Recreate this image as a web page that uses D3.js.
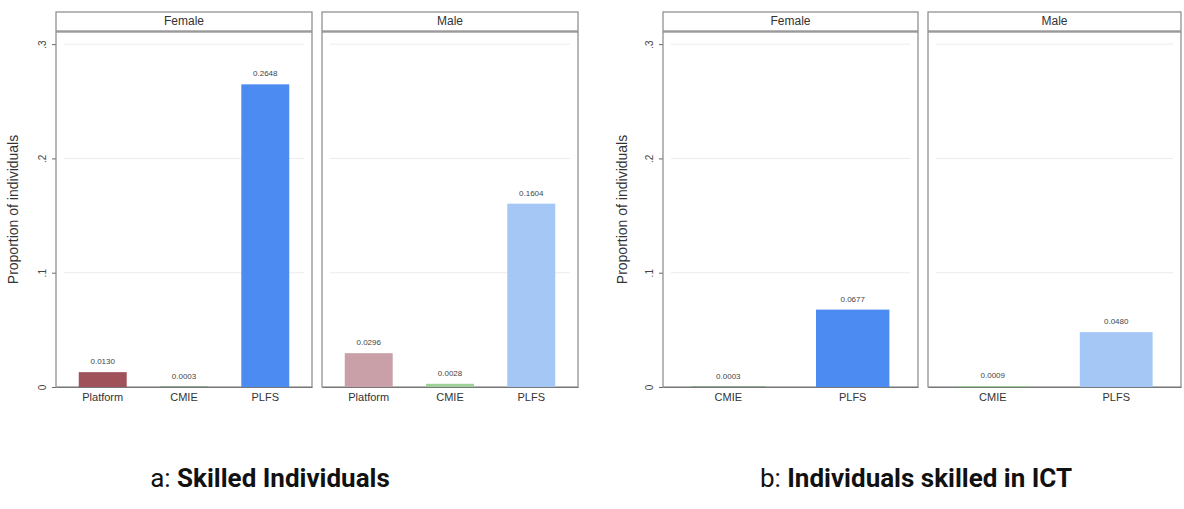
<!DOCTYPE html>
<html lang="en">
<head>
  <meta charset="UTF-8">
  <title>Skilled individuals by source</title>
  <script src="https://cdn.jsdelivr.net/npm/d3@7.9.0/dist/d3.min.js"></script>
  <style>
    html, body { margin: 0; padding: 0; background: #fff; }
    svg { display: block; }
  </style>
</head>
<body>
  <svg id="chart" width="1184" height="509"></svg>
  <script>
    // data
    const sexes = ["Female", "Male"];
    const catsA = ["Platform", "CMIE", "PLFS"];
    const femaleA = [0.0130, 0.0003, 0.2648];
    const maleA = [0.0296, 0.0028, 0.1604];
    const catsB = ["CMIE", "PLFS"];
    const femaleB = [0.0003, 0.0677];
    const maleB = [0.0009, 0.0480];
    const yTicks = [0, 0.1, 0.2, 0.3];
    const yTickLabels = ["0", ".1", ".2", ".3"];

    const colors = {
      Female: { Platform: "#a0525a", CMIE: "#3f8a48", PLFS: "#4b8bf2" },
      Male: { Platform: "#caa0a8", CMIE: "#9fd09a", PLFS: "#a4c7f6" }
    };

    const font = "Liberation Sans, Arial, sans-serif";
    const svg = d3.select("#chart");
    const plotTop = 32, plotBottom = 387, stripTop = 12;
    const y = d3.scaleLinear().domain([0, 0.3106]).range([plotBottom, plotTop]);

    // one figure = two facets side by side
    const drawFigure = (cfg) => {
      const g = svg.append("g");

      g.append("text")
        .attr("transform", `translate(${cfg.titleX},${(plotTop + plotBottom) / 2}) rotate(-90)`)
        .attr("text-anchor", "middle")
        .attr("font-family", font)
        .attr("font-size", 14)
        .attr("fill", "#333")
        .text("Proportion of individuals");

      // y axis on first panel
      const yAxis = d3.axisLeft(y).tickValues(yTicks)
        .tickFormat((d, i) => yTickLabels[i]).tickSize(4).tickPadding(3);
      const ax = g.append("g").attr("transform", `translate(${cfg.panels[0][0]},0)`).call(yAxis);
      ax.select(".domain").remove();
      ax.selectAll(".tick line").attr("stroke", "#666");
      ax.selectAll(".tick text")
        .attr("font-family", font)
        .attr("font-size", 10).attr("fill", "#444")
        .attr("transform", "rotate(-90)")
        .attr("x", 0).attr("y", -10).attr("dy", 0)
        .attr("text-anchor", "middle");

      sexes.forEach((sex, si) => {
        const [x0, x1] = cfg.panels[si];
        const vals = sex === "Female" ? cfg.female : cfg.male;
        const x = d3.scaleBand().domain(cfg.cats).range([x0, x1])
          .paddingInner(cfg.padIn).paddingOuter(cfg.padOut);

        // strip
        g.append("rect").attr("x", x0).attr("y", stripTop)
          .attr("width", x1 - x0).attr("height", plotTop - stripTop - 1)
          .attr("fill", "#fff").attr("stroke", "#888").attr("stroke-width", 1.2);
        g.append("text").attr("x", (x0 + x1) / 2).attr("y", 25)
          .attr("text-anchor", "middle")
          .attr("font-family", font)
          .attr("font-size", 12).attr("fill", "#333").text(sex);

        // gridlines
        g.selectAll(null).data(yTicks.slice(1)).join("line")
          .attr("x1", x0 + 8).attr("x2", x1 - 8)
          .attr("y1", d => y(d)).attr("y2", d => y(d))
          .attr("stroke", "#ececec").attr("stroke-width", 1);

        // panel frame
        g.append("rect").attr("x", x0).attr("y", plotTop)
          .attr("width", x1 - x0).attr("height", plotBottom - plotTop)
          .attr("fill", "none").attr("stroke", "#888").attr("stroke-width", 1.2);

        // bars
        g.selectAll(null).data(cfg.cats).join("rect")
          .attr("x", d => x(d)).attr("width", x.bandwidth())
          .attr("y", (d, i) => y(vals[i]))
          .attr("height", (d, i) => plotBottom - y(vals[i]))
          .attr("fill", d => colors[sex][d]);

        // value labels
        g.selectAll(null).data(cfg.cats).join("text")
          .attr("x", d => x(d) + x.bandwidth() / 2)
          .attr("y", (d, i) => y(vals[i]) - 8)
          .attr("text-anchor", "middle")
          .attr("font-family", font)
          .attr("font-size", 8).attr("fill", "#444")
          .text((d, i) => vals[i].toFixed(4));

        // category labels
        const xa = g.append("g").attr("transform", `translate(0,${plotBottom})`)
          .call(d3.axisBottom(x).tickSize(0).tickPadding(6));
        xa.select(".domain").attr("stroke", "#777");
        xa.selectAll(".tick text")
          .attr("font-family", font)
          .attr("font-size", 11).attr("fill", "#333");
      });

      // caption
      const cap = g.append("text").attr("x", cfg.capX).attr("y", 487)
        .attr("text-anchor", "middle")
        .attr("font-family", "Roboto, sans-serif")
        .attr("font-size", 26).attr("fill", "#111");
      cap.append("tspan").text(cfg.capPre);
      cap.append("tspan").attr("font-weight", "bold").text(cfg.capBold);
    };

    drawFigure({
      titleX: 18, panels: [[56, 312], [322, 578]],
      cats: catsA, female: femaleA, male: maleA,
      padIn: 0.41, padOut: 0.28,
      capX: 270, capPre: "a: ", capBold: "Skilled Individuals"
    });

    drawFigure({
      titleX: 627, panels: [[663, 918], [928, 1181]],
      cats: catsB, female: femaleB, male: maleB,
      padIn: 0.41, padOut: 0.23,
      capX: 916, capPre: "b: ", capBold: "Individuals skilled in ICT"
    });
  </script>
</body>
</html>
